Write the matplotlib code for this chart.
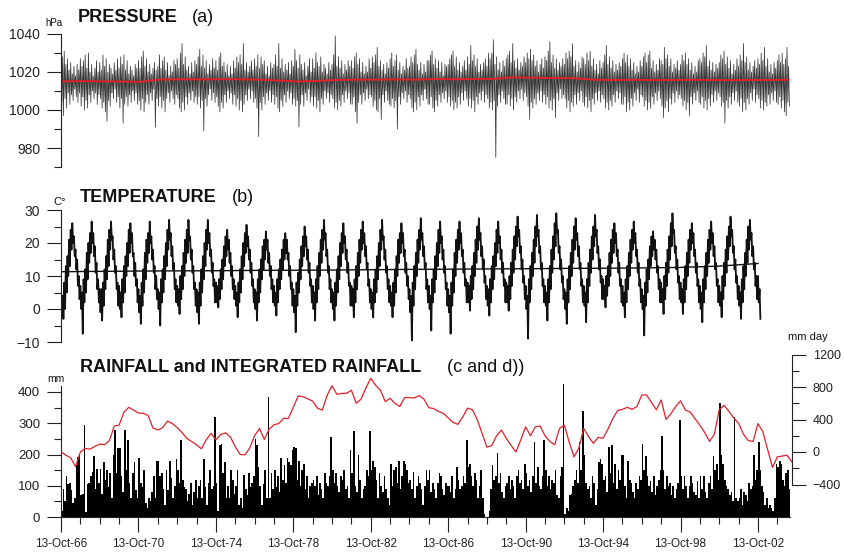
import numpy as np
import matplotlib
matplotlib.use('Agg')
import matplotlib.pyplot as plt
from matplotlib.ticker import FixedLocator

plt.rcParams['font.family'] = ['Liberation Sans', 'DejaVu Sans']

# ---------------------------------------------------------------
# data (monthly, starting 13-Oct-66)

# pressure, monthly upper / lower extremes (hPa)
press_hi = [
    1022, 1028, 1031, 1024, 1027, 1021, 1025, 1019, 1023, 1018, 1024, 1021,
    1027, 1023, 1026, 1029, 1022, 1030, 1020, 1024, 1018, 1022, 1026, 1020,
    1025, 1021, 1029, 1023, 1027, 1020, 1024, 1022, 1019, 1025, 1021, 1027,
    1022, 1028, 1024, 1029, 1021, 1026, 1019, 1023, 1021, 1018, 1024, 1022,
    1026, 1022, 1028, 1031, 1023, 1027, 1020, 1024, 1019, 1022, 1025, 1021,
    1023, 1029, 1022, 1026, 1028, 1021, 1025, 1018, 1023, 1020, 1026, 1024,
    1027, 1022, 1030, 1035, 1024, 1028, 1021, 1023, 1019, 1025, 1020, 1026,
    1024, 1028, 1032, 1023, 1029, 1022, 1026, 1019, 1024, 1021, 1027, 1022,
    1026, 1021, 1028, 1030, 1023, 1025, 1020, 1024, 1018, 1023, 1019, 1026,
    1022, 1028, 1025, 1029, 1024, 1035, 1021, 1025, 1020, 1023, 1026, 1021,
    1027, 1023, 1029, 1022, 1028, 1024, 1026, 1019, 1023, 1018, 1025, 1022,
    1024, 1029, 1023, 1035, 1022, 1027, 1020, 1024, 1021, 1025, 1019, 1026,
    1023, 1032, 1026, 1022, 1029, 1024, 1021, 1025, 1018, 1023, 1027, 1020,
    1027, 1022, 1030, 1025, 1023, 1028, 1020, 1024, 1022, 1019, 1025, 1021,
    1024, 1029, 1039, 1023, 1028, 1022, 1026, 1019, 1024, 1021, 1026, 1023,
    1026, 1022, 1028, 1030, 1024, 1027, 1020, 1025, 1019, 1023, 1020, 1027,
    1022, 1028, 1025, 1029, 1033, 1023, 1026, 1021, 1024, 1019, 1025, 1022,
    1027, 1030, 1023, 1026, 1029, 1021, 1025, 1019, 1023, 1021, 1027, 1022,
    1023, 1028, 1025, 1029, 1032, 1024, 1021, 1025, 1019, 1024, 1020, 1026,
    1026, 1029, 1031, 1024, 1027, 1022, 1026, 1020, 1025, 1018, 1024, 1023,
    1024, 1027, 1029, 1031, 1023, 1028, 1021, 1025, 1020, 1023, 1026, 1021,
    1028, 1024, 1034, 1026, 1029, 1023, 1027, 1020, 1024, 1021, 1025, 1027,
    1023, 1030, 1027, 1030, 1037, 1024, 1028, 1021, 1025, 1020, 1026, 1023,
    1027, 1029, 1031, 1025, 1035, 1026, 1022, 1027, 1021, 1025, 1023, 1028,
    1025, 1030, 1027, 1032, 1026, 1029, 1023, 1026, 1020, 1024, 1027, 1022,
    1028, 1026, 1031, 1036, 1025, 1029, 1022, 1027, 1021, 1025, 1023, 1027,
    1024, 1030, 1027, 1031, 1028, 1035, 1023, 1026, 1020, 1025, 1022, 1028,
    1027, 1024, 1030, 1026, 1031, 1023, 1027, 1021, 1024, 1019, 1026, 1022,
    1025, 1029, 1034, 1024, 1028, 1022, 1026, 1020, 1024, 1021, 1025, 1023,
    1027, 1030, 1025, 1029, 1023, 1027, 1021, 1025, 1019, 1023, 1020, 1026,
    1023, 1028, 1030, 1025, 1029, 1031, 1022, 1026, 1020, 1024, 1021, 1027,
    1026, 1024, 1033, 1027, 1029, 1023, 1027, 1020, 1024, 1022, 1026, 1021,
    1024, 1029, 1026, 1030, 1024, 1027, 1021, 1025, 1019, 1023, 1020, 1026,
    1027, 1025, 1030, 1028, 1034, 1023, 1026, 1021, 1025, 1020, 1024, 1022,
    1025, 1029, 1027, 1031, 1024, 1028, 1022, 1026, 1019, 1024, 1021, 1027,
    1023, 1029, 1026, 1035, 1025, 1028, 1021, 1025, 1020, 1023, 1026, 1022,
    1027, 1024, 1030, 1026, 1033, 1023, 1027, 1020, 1024, 1019, 1025, 1022,
    1026, 1029, 1025, 1030, 1024, 1027, 1033, 1023,
]
press_lo = [
    1004, 997, 1006, 1001, 1009, 1003, 1008, 1005, 1011, 1007, 1004, 1009,
    1002, 1007, 1000, 1005, 1001, 1008, 1004, 1010, 1006, 1009, 1003, 1008,
    1006, 1001, 1004, 999, 994, 1005, 1002, 1009, 1006, 1011, 1004, 1007,
    1001, 1006, 993, 1003, 1007, 1002, 1008, 1004, 1010, 1005, 1009, 1003,
    1005, 1000, 1006, 999, 1004, 1008, 1003, 1009, 1005, 1011, 991, 1006,
    1002, 1007, 1001, 1005, 999, 1006, 1009, 1004, 1010, 1006, 1003, 1008,
    1006, 1001, 999, 1004, 1000, 1007, 1003, 1009, 1005, 1010, 1004, 1007,
    1003, 1007, 1001, 1005, 989, 1006, 1002, 1008, 1011, 1005, 1009, 1004,
    1007, 1002, 999, 1004, 1001, 1008, 1004, 1010, 1006, 1009, 1003, 1008,
    1002, 1006, 1000, 1005, 999, 1003, 1008, 1005, 1011, 1006, 1010, 1004,
    1006, 1001, 986, 1004, 1000, 1007, 1003, 1009, 1005, 1010, 1004, 1008,
    1003, 1007, 1001, 999, 1005, 1002, 1008, 1004, 1010, 1006, 1009, 1003,
    1006, 1002, 1005, 991, 1003, 1008, 1002, 1009, 1005, 1011, 1004, 1007,
    1002, 1007, 1001, 1005, 999, 1006, 1003, 1010, 1006, 1009, 1004, 1008,
    1006, 1001, 1004, 1000, 1005, 1002, 1008, 1004, 1010, 1006, 1009, 1003,
    1003, 1007, 999, 993, 1004, 1008, 1003, 1009, 1005, 1011, 1006, 1008,
    1007, 1002, 1005, 1000, 999, 1006, 995, 1008, 1004, 1010, 1005, 1003,
    1002, 1006, 1001, 1005, 990, 1007, 1003, 1009, 1006, 1010, 1004, 1008,
    1006, 1001, 999, 1004, 1000, 1007, 1002, 1008, 1005, 1011, 1006, 1003,
    1003, 1007, 1001, 999, 1005, 1002, 1008, 1004, 1009, 1006, 1010, 1004,
    1007, 1002, 1005, 1000, 1004, 1001, 1007, 1003, 1009, 1005, 1010, 1006,
    1002, 1006, 1001, 1005, 999, 1007, 1003, 1009, 1005, 1010, 1004, 1008,
    1006, 1001, 1004, 1000, 1005, 975, 1002, 1008, 1004, 1010, 1006, 1003,
    1003, 1008, 1002, 1006, 1000, 1007, 1004, 1010, 1006, 1011, 1005, 1009,
    1007, 1002, 995, 1004, 1001, 1006, 1003, 1009, 1005, 1010, 1004, 1008,
    1003, 1007, 1001, 1005, 1000, 1006, 996, 1009, 1005, 1011, 1006, 1008,
    1006, 1001, 1005, 999, 1004, 1002, 1008, 1003, 1009, 1005, 1010, 1004,
    1002, 1007, 1001, 1005, 999, 1006, 1003, 1009, 1005, 1010, 1004, 1008,
    1006, 1001, 1004, 1000, 1005, 1002, 1008, 1004, 1010, 1006, 1009, 1003,
    1003, 1007, 999, 1004, 1000, 1006, 1002, 1009, 1005, 1011, 1004, 1008,
    1007, 1002, 1005, 1000, 1004, 1001, 1007, 1003, 1009, 1005, 1010, 1006,
    1002, 996, 1001, 1005, 999, 1006, 1003, 1009, 1004, 1010, 1006, 1008,
    1006, 1002, 1005, 1000, 1004, 997, 1007, 1003, 1009, 1005, 1010, 1004,
    1003, 1007, 1001, 1005, 1000, 1006, 1002, 1008, 1004, 1010, 1005, 1009,
    1007, 1002, 1004, 993, 1005, 1001, 1007, 1003, 1009, 1005, 1010, 1004,
    1002, 1006, 999, 1004, 1000, 1006, 1003, 1009, 1005, 1011, 1004, 1008,
    1006, 1001, 1005, 1000, 1004, 1002, 1008, 1003, 1009, 1005, 1010, 1004,
    1003, 1007, 1001, 1005, 999, 997, 1004, 1002,
]
# pressure running mean (red), one value per year
press_mean = [1015.0, 1015.2, 1015.1, 1015.0, 1014.8, 1016.0, 1016.2, 1016.1,
              1016.2, 1016.2, 1016.0, 1015.6, 1015.0, 1015.3, 1015.8, 1016.0,
              1016.0, 1016.1, 1016.0, 1016.3, 1016.2, 1016.3, 1016.4, 1017.2,
              1017.0, 1016.8, 1016.8, 1016.0, 1015.8, 1015.9, 1015.8, 1015.8,
              1015.9, 1015.8, 1015.7, 1015.8, 1015.8, 1015.9]

# temperature, monthly upper / lower (C)
temp_hi = [
    5, 4, 8, 13, 16, 21, 24, 26, 22, 18, 15, 10,
    7, 5, 9, 12, 17, 20, 23, 26.5, 23, 19, 14, 9,
    6, 6, 8, 12, 16, 21, 24, 26.5, 22, 18, 13, 8,
    7, 5, 9, 13, 16, 20, 24, 26, 23, 17, 14, 9,
    6, 4, 8, 12, 17, 21, 23, 26.5, 22, 18, 13, 10,
    6, 5, 9, 12, 16, 20, 24, 27, 23, 19, 14, 9,
    7, 6, 10, 13, 17, 21, 24, 27, 22, 18, 13, 8,
    6, 5, 8, 12, 16, 20, 24, 27, 23, 18, 14, 9,
    8, 7, 9, 12, 15, 19, 22, 24, 21, 17, 13, 9,
    7, 5, 8, 12, 16, 20, 23, 25.5, 22, 18, 14, 9,
    6, 5, 9, 12, 15, 19, 21, 23.5, 21, 17, 13, 9,
    7, 5, 9, 12, 15, 18, 21, 23, 21, 17, 13, 8,
    6, 4, 8, 11, 15, 19, 22, 25, 22, 18, 14, 9,
    7, 5, 9, 13, 17, 21, 24, 27, 23, 18, 13, 9,
    6, 5, 8, 12, 16, 20, 23, 26, 22, 18, 14, 8,
    7, 6, 9, 13, 17, 21, 24, 26.5, 23, 19, 14, 9,
    6, 5, 9, 12, 16, 20, 24, 27, 22, 18, 13, 9,
    7, 5, 8, 12, 16, 21, 23, 26, 23, 18, 14, 10,
    6, 4, 8, 13, 17, 21, 24, 27.5, 23, 19, 14, 9,
    7, 4, 9, 12, 16, 20, 24, 26.5, 22, 18, 13, 8,
    6, 4, 8, 12, 17, 21, 24, 26.5, 23, 18, 14, 9,
    8, 7, 10, 13, 17, 21, 25, 27.5, 23, 19, 15, 10,
    7, 6, 9, 13, 16, 20, 24, 26.5, 22, 18, 14, 9,
    8, 7, 10, 14, 18, 22, 25, 28, 24, 19, 15, 10,
    7, 4, 9, 13, 17, 21, 25, 28.5, 24, 19, 14, 9,
    7, 5, 9, 13, 18, 22, 26, 29, 24, 19, 15, 10,
    6, 5, 9, 13, 17, 21, 25, 27.5, 23, 19, 14, 9,
    7, 5, 9, 14, 18, 22, 25, 28.5, 24, 19, 15, 10,
    9, 7, 10, 13, 17, 21, 24, 26, 23, 18, 14, 9,
    7, 5, 9, 13, 17, 21, 24, 26.5, 23, 18, 14, 9,
    6, 4, 8, 12, 15, 19, 22, 23.5, 21, 18, 13, 9,
    8, 6, 10, 14, 18, 22, 26, 29, 24, 19, 15, 10,
    8, 6, 9, 13, 17, 21, 24, 26, 23, 18, 14, 9,
    7, 5, 9, 13, 17, 21, 24, 26.5, 23, 19, 14, 9,
    7, 5, 10, 14, 18, 22, 25, 28, 24, 19, 15, 10,
    7, 5, 9, 13, 17, 21, 25, 27, 23, 19, 14, 10,
    10, 6,
]
temp_lo = [
    1, -3, 0, 5, 10, 13, 18, 20, 16, 12, 7, 3,
    0, -7.5, 2, 5, 9, 14, 17, 20, 16, 11, 6, 2,
    -1, -3.5, 1, 6, 9, 13, 18, 21, 15, 11, 6, 1,
    0, -2.5, 2, 5, 10, 13, 17, 20, 16, 10, 7, 2,
    -1, -4.5, 1, 5, 9, 14, 17, 20, 15, 11, 6, 3,
    0, -5, 2, 5, 9, 13, 18, 21, 16, 12, 6, 2,
    1, -1.5, 3, 6, 10, 14, 17, 21, 15, 11, 6, 1,
    -1, -4.5, 1, 5, 9, 13, 18, 20, 16, 11, 7, 2,
    2, 0.5, 3, 6, 9, 13, 16, 18, 14, 10, 6, 3,
    1, -2.5, 2, 5, 9, 13, 17, 19, 15, 11, 7, 2,
    0, -3.5, 2, 5, 9, 12, 15, 18, 14, 10, 6, 2,
    1, -2, 2, 6, 9, 12, 15, 17, 15, 10, 6, 1,
    -1, -7, 1, 5, 9, 13, 16, 19, 15, 11, 7, 2,
    0, -3.5, 2, 6, 10, 14, 18, 21, 16, 11, 6, 2,
    0, -3.5, 1, 5, 9, 13, 17, 20, 15, 11, 7, 1,
    1, -2.5, 2, 6, 10, 14, 18, 20, 16, 12, 7, 2,
    0, -2.5, 2, 5, 9, 13, 18, 21, 15, 11, 6, 2,
    1, -2.5, 1, 5, 10, 14, 17, 20, 16, 11, 7, 3,
    -1, -9.5, 1, 6, 10, 14, 18, 21, 16, 12, 6, 2,
    0, -6.5, 2, 5, 9, 13, 17, 20, 15, 11, 6, 1,
    -1, -7.5, 1, 5, 10, 14, 18, 20, 16, 11, 7, 2,
    2, -0.5, 3, 6, 10, 14, 18, 21, 16, 12, 8, 3,
    1, -2, 2, 6, 9, 13, 17, 20, 15, 11, 7, 2,
    2, -0.5, 3, 7, 11, 15, 19, 22, 17, 12, 8, 3,
    0, -9, 2, 6, 10, 14, 19, 22, 17, 12, 7, 2,
    1, -3.5, 2, 6, 11, 15, 19, 23, 17, 12, 8, 3,
    0, -4.5, 2, 6, 10, 14, 18, 21, 16, 12, 7, 2,
    1, -4, 2, 7, 11, 15, 19, 22, 17, 12, 8, 3,
    3, 0.5, 4, 7, 10, 14, 17, 20, 16, 11, 7, 2,
    1, -2.5, 2, 6, 10, 14, 18, 20, 16, 11, 7, 2,
    0, -8, 1, 5, 9, 13, 16, 18, 15, 11, 6, 2,
    2, -1.5, 3, 7, 11, 15, 19, 23, 17, 12, 8, 3,
    2, -1.5, 2, 6, 10, 14, 18, 20, 16, 11, 7, 2,
    0, -4, 2, 6, 10, 14, 18, 20, 16, 12, 7, 2,
    1, -2.5, 3, 7, 11, 15, 19, 22, 17, 12, 8, 3,
    1, -3, 2, 6, 10, 14, 18, 21, 16, 12, 7, 3,
    2, -3,
]
# temperature trend, every 2 years
temp_trend = [11.3, 11.4, 11.5, 11.55, 11.6, 11.7, 11.75, 11.8, 11.9, 12.0,
              12.05, 12.15, 12.2, 12.3, 12.35, 12.45, 12.6, 13.0, 13.8]

# monthly rainfall (mm)
rain = [
    20, 90, 50, 130, 107, 109, 87, 46, 60, 165, 192, 197,
    70, 75, 293, 15, 105, 110, 130, 145, 195, 90, 155, 110,
    155, 75, 175, 117, 150, 96, 140, 60, 200, 280, 140, 220,
    220, 130, 80, 280, 150, 245, 110, 60, 140, 175, 85, 60,
    190, 110, 95, 150, 45, 30, 60, 50, 80, 130, 60, 180,
    180, 130, 140, 90, 40, 150, 85, 180, 125, 60, 100, 185,
    150, 110, 245, 120, 95, 90, 50, 75, 110, 40, 80, 120,
    60, 100, 120, 60, 185, 95, 40, 110, 150, 90, 100, 320,
    110, 20, 230, 235, 140, 175, 60, 100, 60, 150, 120, 75,
    100, 150, 40, 60, 30, 135, 90, 70, 140, 95, 110, 130,
    250, 230, 160, 100, 40, 105, 150, 60, 385, 60, 140, 90,
    150, 95, 130, 80, 190, 120, 165, 110, 190, 175, 165, 215,
    225, 220, 120, 180, 100, 150, 170, 90, 130, 60, 100, 110,
    120, 100, 130, 70, 110, 90, 60, 140, 110, 100, 130, 255,
    150, 110, 140, 100, 80, 130, 120, 150, 90, 100, 60, 215,
    140, 275, 100, 80, 200, 120, 60, 90, 100, 150, 130, 275,
    150, 180, 160, 120, 60, 140, 100, 80, 130, 90, 60, 40,
    170, 100, 150, 160, 110, 180, 90, 130, 180, 170, 150, 110,
    120, 90, 145, 60, 100, 130, 110, 90, 40, 100, 150, 120,
    150, 80, 110, 90, 60, 110, 140, 130, 90, 70, 110, 100,
    100, 80, 130, 60, 90, 160, 120, 90, 100, 130, 110, 245,
    160, 170, 130, 100, 140, 120, 60, 100, 150, 60, 10, 0,
    0, 20, 90, 165, 120, 130, 205, 110, 140, 80, 60, 100,
    110, 130, 90, 120, 100, 60, 130, 150, 110, 120, 90, 170,
    140, 100, 120, 80, 130, 240, 110, 160, 100, 90, 130, 245,
    150, 100, 130, 90, 120, 110, 150, 70, 60, 130, 160, 427,
    10, 30, 20, 70, 75, 100, 120, 150, 110, 240, 150, 340,
    200, 110, 90, 100, 60, 130, 110, 40, 90, 175, 185, 170,
    120, 130, 80, 225, 140, 230, 110, 170, 90, 150, 120, 200,
    200, 100, 60, 180, 120, 110, 80, 60, 110, 90, 130, 120,
    235, 150, 195, 130, 100, 115, 80, 130, 70, 100, 120, 150,
    260, 150, 90, 130, 100, 110, 70, 100, 60, 90, 110, 310,
    130, 90, 130, 100, 60, 100, 130, 110, 80, 70, 115, 60,
    130, 90, 130, 80, 60, 110, 130, 90, 195, 150, 170, 120,
    365, 200, 170, 120, 100, 90, 70, 80, 50, 320, 60, 50,
    60, 90, 40, 80, 70, 50, 110, 90, 100, 200, 120, 150,
    240, 150, 100, 80, 40, 60, 30, 40, 30, 20, 60, 170,
    160, 180, 170, 120, 100, 140, 150, 90,
]
# integrated rainfall (red, right axis), every quarter year
rain_int = [
    4, -40, -70, -180, 0, 45, 35, 70, 98, 90, 140, 320, 330, 490, 550, 515,
    480, 476, 450, 295, 271, 300, 380, 350, 300, 240, 168, 130, 88, 40, 150,
    230, 150, 215, 235, 185, 66, -30, -35, 50, 200, 290, 155, 280, 335, 350,
    414, 415, 550, 690,
    680, 655, 625, 540, 515, 700, 815, 710, 722, 722, 760, 600, 650, 790, 907,
    820, 760, 620, 661, 599, 560, 670, 670, 665, 695, 650, 545, 535, 500, 476,
    420, 365, 340, 430, 540, 520, 400, 230, 60, 80, 200, 270, 168, 80, 0, 150,
    310, 200, 310, 320, 200, 130,
    90, 290, 330, 120, -60, 50, 290, 190, 107, 180, 170, 280, 410, 510, 525,
    550, 525, 560, 702, 702, 610, 520, 640, 400, 470, 560, 630, 517, 490, 410,
    330, 240, 130, 220, 520, 575, 500, 420, 353, 220, 140, 130, 350, 250, 30,
    -190, -60, -50, -40, -120,
]

tick_years = list(range(0, 37, 4))
tick_labels = ['13-Oct-%02d' % ((66 + y) % 100) for y in tick_years]

# ---------------------------------------------------------------
fig = plt.figure(figsize=(8.45, 5.54), dpi=100)
W, H = 845.0, 554.0


def box(x0, y0, x1, y1):
    return [x0 / W, 1 - y1 / H, (x1 - x0) / W, (y1 - y0) / H]


XMAX = 731 / 19.36
ink = '#222222'

ax1 = fig.add_axes(box(61, 34, 792, 167))
ax2 = fig.add_axes(box(61, 210, 792, 342))
ax3 = fig.add_axes(box(61, 354.5, 792, 517))

for ax in (ax1, ax2, ax3):
    ax.set_xlim(0, XMAX)
    ax.spines['top'].set_visible(False)
    ax.spines['right'].set_visible(False)
    ax.spines['left'].set_color(ink)
    ax.tick_params(axis='y', which='major', length=10, width=0.8, pad=5,
                   colors=ink, labelsize=10)
    ax.tick_params(axis='y', which='minor', length=5, width=0.8, colors=ink)
    ax.patch.set_alpha(0)
for ax in (ax1, ax2):
    ax.spines['bottom'].set_visible(False)
    ax.tick_params(axis='x', which='both', bottom=False, labelbottom=False)

# (a) pressure
t_p = np.arange(len(press_hi)) / 12
xp = np.column_stack([t_p, t_p + 1 / 24]).ravel()
yp = np.column_stack([press_hi, press_lo]).ravel()
ax1.plot(xp, yp, color='#383838', lw=0.55)
ax1.plot(np.linspace(0, t_p[-1], len(press_mean)), press_mean,
         color='#e0202a', lw=1.4)
ax1.set_ylim(970, 1040)
ax1.spines['left'].set_bounds(970, 1040)
ax1.yaxis.set_major_locator(FixedLocator([980, 1000, 1020, 1040]))
ax1.yaxis.set_minor_locator(FixedLocator(range(970, 1041, 10)))

# (b) temperature
t_t = np.arange(len(temp_hi)) / 12
xt = np.column_stack([t_t, t_t + 1 / 24]).ravel()
yt = np.column_stack([temp_hi, temp_lo]).ravel()
ax2.plot(xt, yt, color='#111111', lw=1.3)
ax2.plot(np.arange(len(temp_trend)) * 2, temp_trend, color='#111111', lw=1.0)
ax2.set_ylim(-10, 30)
ax2.spines['left'].set_bounds(-10, 30)
ax2.yaxis.set_major_locator(FixedLocator([-10, 0, 10, 20, 30]))
ax2.yaxis.set_minor_locator(FixedLocator(range(-10, 31, 5)))

# (c) rainfall + (d) integrated rainfall
t_r = np.arange(len(rain)) / 12
ax3.bar(t_r, rain, width=1 / 12, align='edge', color='black', lw=0)
ax3.set_ylim(0, 520)
ax3.spines['left'].set_bounds(0, 420)
ax3.spines['bottom'].set_color(ink)
ax3.spines['bottom'].set_bounds(0, t_r[-1] + 1 / 12)
ax3.yaxis.set_major_locator(FixedLocator([0, 100, 200, 300, 400]))
ax3.yaxis.set_minor_locator(FixedLocator(range(0, 401, 50)))
ax3.tick_params(axis='y', labelsize=9.5)
ax3.set_xticks(tick_years)
ax3.set_xticklabels(tick_labels)
ax3.xaxis.set_minor_locator(FixedLocator(range(0, 38)))
ax3.tick_params(axis='x', which='major', length=11, width=0.8, pad=4,
                colors=ink, labelsize=8.5)
ax3.tick_params(axis='x', which='minor', length=5, width=0.8, colors=ink)

ax3r = ax3.twinx()
ax3r.set_xlim(0, XMAX)
ax3r.plot(np.arange(len(rain_int)) * 0.25, rain_int, color='#e0202a', lw=0.9)
ax3r.set_ylim(-800, 1200)
for s in ('top', 'left', 'bottom'):
    ax3r.spines[s].set_visible(False)
ax3r.spines['right'].set_color(ink)
ax3r.spines['right'].set_bounds(-400, 1200)
ax3r.yaxis.set_major_locator(FixedLocator([-400, 0, 400, 800, 1200]))
ax3r.yaxis.set_minor_locator(FixedLocator([-200, 200, 600, 1000]))
ax3r.tick_params(axis='y', which='major', length=10, width=0.8, pad=5,
                 colors=ink, labelsize=9)
ax3r.tick_params(axis='y', which='minor', length=5, width=0.8, colors=ink)

# titles and unit labels
def ftxt(x, y, s, **kw):
    fig.text(x / W, 1 - y / H, s, va='center', color='#111111', **kw)


ftxt(78, 17, 'PRESSURE', fontsize=13, fontweight='bold')
ftxt(192, 17, '(a)', fontsize=13)
ftxt(80, 198, 'TEMPERATURE', fontsize=13, fontweight='bold')
ftxt(232, 198, '(b)', fontsize=13)
ftxt(80, 367, 'RAINFALL and INTEGRATED RAINFALL', fontsize=13,
     fontweight='bold')
ftxt(447, 367, '(c and d))', fontsize=13)
ftxt(45, 23, 'hPa', fontsize=7)
ftxt(53, 202, 'C°', fontsize=8)
ftxt(47, 379, 'mm', fontsize=7.5)
ftxt(788, 337, 'mm day', fontsize=8)

fig.savefig('out.png', dpi=100)
